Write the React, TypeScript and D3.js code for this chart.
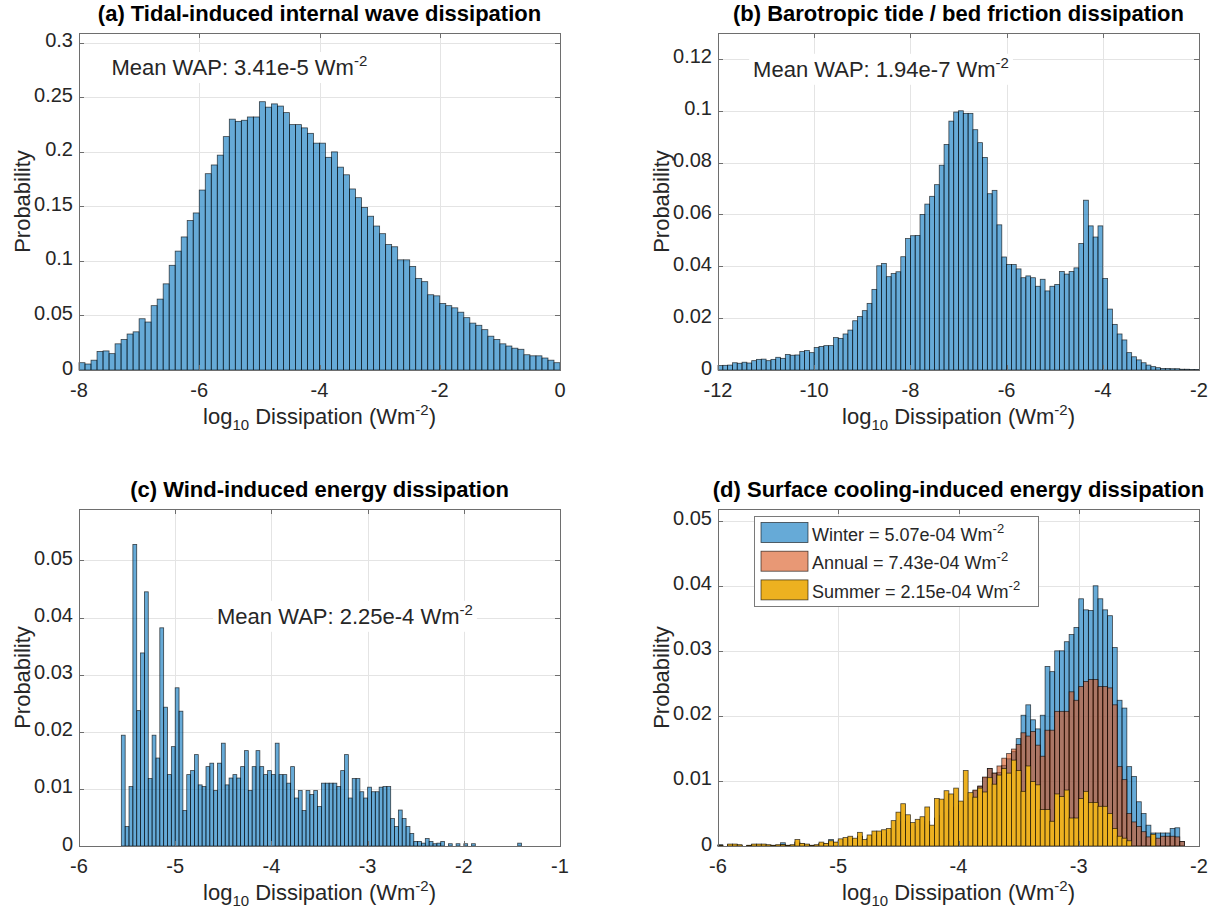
import React from "react";
import * as d3 from "d3";

const FONT = '"Liberation Sans", Arial, Helvetica, sans-serif';
const BLUE = "#0072BD";
const ORANGE = "#D95319";
const YELLOW = "#EDB120";
const AXIS = "#6e6e6e";
const GRID = "#e4e4e4";
const INK = "#262626";

// (a) tidal-induced internal wave dissipation, bins of 0.1 starting at -8
const tidalProb = [
  0.0067, 0.0055, 0.009, 0.017, 0.0175, 0.015, 0.024, 0.028, 0.033, 0.035,
  0.047, 0.044, 0.059, 0.065, 0.079, 0.096, 0.109, 0.122, 0.137, 0.144,
  0.165, 0.18, 0.188, 0.197, 0.214, 0.23, 0.228, 0.229, 0.232, 0.232,
  0.246, 0.241, 0.244, 0.242, 0.236, 0.225, 0.225, 0.222, 0.217, 0.208,
  0.208, 0.195, 0.2, 0.186, 0.179, 0.166, 0.158, 0.149, 0.141, 0.132,
  0.125, 0.115, 0.113, 0.101, 0.101, 0.095, 0.084, 0.081, 0.069, 0.068,
  0.061, 0.059, 0.057, 0.053, 0.048, 0.043, 0.041, 0.037, 0.031, 0.028,
  0.024, 0.022, 0.02, 0.019, 0.014, 0.013, 0.013, 0.011, 0.009, 0.0067,
];
const tidalXTicks = [-8, -6, -4, -2, 0];
const tidalYTicks = [0, 0.05, 0.1, 0.15, 0.2, 0.25, 0.3];

// (b) barotropic tide / bed friction, bins of 0.1 starting at -12
const barotropicProb = [
  0.0017, 0.0018, 0.0019, 0.0028, 0.0026, 0.003, 0.0027, 0.0036, 0.0041, 0.0042,
  0.0036, 0.0041, 0.0049, 0.0045, 0.006, 0.0057, 0.0058, 0.0071, 0.0075, 0.0067,
  0.0087, 0.0091, 0.0094, 0.0094, 0.0125, 0.0122, 0.0139, 0.0154, 0.019, 0.0206,
  0.0229, 0.0257, 0.0311, 0.0402, 0.0411, 0.036, 0.0372, 0.0379, 0.0437, 0.0507,
  0.0518, 0.0519, 0.06, 0.064, 0.067, 0.0715, 0.079, 0.087, 0.096, 0.0995,
  0.1, 0.099, 0.099, 0.0927, 0.0877, 0.082, 0.068, 0.0693, 0.056, 0.0436,
  0.0407, 0.0407, 0.039, 0.0356, 0.0363, 0.0356, 0.0323, 0.035, 0.0305, 0.0323,
  0.033, 0.038, 0.037, 0.038, 0.0394, 0.0488, 0.0655, 0.0556, 0.0513, 0.0556,
  0.0353, 0.0235, 0.0176, 0.0139, 0.0116, 0.0067, 0.0051, 0.0039, 0.0028, 0.0019,
  0.0013, 0.0009, 0.0006, 0.0006, 0.0005, 0.0005, 0.0003, 0.0003, 0.0002, 0.0002,
];
const barotropicXTicks = [-12, -10, -8, -6, -4, -2];
const barotropicYTicks = [0, 0.02, 0.04, 0.06, 0.08, 0.1, 0.12];

// (c) wind-induced, bins of 0.04 starting at -5.56
const windProb = [
  0.0194, 0.0034, 0.0104, 0.0528, 0.0237, 0.0338, 0.0445, 0.0118, 0.0194, 0.0154,
  0.0382, 0.0243, 0.0125, 0.0174, 0.0277, 0.0236, 0.0062, 0.0125, 0.0132, 0.016,
  0.0107, 0.0104, 0.0139, 0.0145, 0.0097, 0.0145, 0.018, 0.0107, 0.0119, 0.0125,
  0.0119, 0.0139, 0.0167, 0.0097, 0.0139, 0.0167, 0.0139, 0.0125, 0.0132, 0.0125,
  0.018, 0.0125, 0.0125, 0.011, 0.0139, 0.0084, 0.0097, 0.0062, 0.0097, 0.009,
  0.0097, 0.0069, 0.011, 0.011, 0.011, 0.011, 0.0104, 0.0132, 0.016, 0.0084,
  0.0118, 0.0118, 0.0095, 0.0084, 0.0103, 0.0095, 0.0095, 0.0103, 0.0104, 0.0104,
  0.0048, 0.0034, 0.0063, 0.0048, 0.0034, 0.0022, 0.0008, 0.0008, 0.0005, 0.0013,
  0.0008, 0.0004, 0.0005, 0.0008, 0, 0.0004, 0, 0.0004, 0, 0.0004,
  0, 0.0004, 0, 0, 0, 0, 0, 0, 0, 0,
  0, 0, 0, 0.0005,
];
const windXTicks = [-6, -5, -4, -3, -2, -1];
const windYTicks = [0, 0.01, 0.02, 0.03, 0.04, 0.05];

// (d) surface cooling, bins of 0.04 starting at -6
const winterProb = [
  0.0002, 0, 0.0002, 0.0002, 0.0001, 0, 0.0001, 0.0002, 0.0002, 0.0002,
  0.0001, 0.0001, 0.0001, 0.0005, 0.0001, 0.0001, 0.0006, 0.0003, 0.0002, 0.0001,
  0.0001, 0.0004, 0.0003, 0.001, 0.0005, 0.0008, 0.0009, 0.0011, 0.0009, 0.0015,
  0.0008, 0.0012, 0.0016, 0.0017, 0.0018, 0.002, 0.0025, 0.0032, 0.0037, 0.0031,
  0.0026, 0.0029, 0.0032, 0.0037, 0.0029, 0.0042, 0.0046, 0.0051, 0.0055, 0.0059,
  0.0062, 0.0067, 0.0073, 0.0085, 0.0092, 0.0105, 0.0119, 0.0112, 0.0113, 0.0124,
  0.0134, 0.0145, 0.0165, 0.0201, 0.0217, 0.0194, 0.018, 0.0201, 0.0276, 0.0268,
  0.03, 0.03, 0.0314, 0.0325, 0.0336, 0.038, 0.0363, 0.0362, 0.04, 0.038,
  0.0363, 0.0354, 0.0305, 0.0224, 0.0212, 0.0122, 0.0107, 0.0068, 0.005, 0.0032,
  0.002, 0.002, 0.002, 0.002, 0.0027, 0.0028, 0.0007,
];
const annualProb = [
  0.0001, 0, 0.0002, 0.0002, 0.0001, 0, 0.0001, 0.0002, 0.0002, 0.0002,
  0.0001, 0.0001, 0.0001, 0.0002, 0.0001, 0.0001, 0.0006, 0.0003, 0.0002, 0.0001,
  0.0001, 0.0004, 0.0003, 0.0006, 0.0005, 0.0008, 0.0009, 0.0011, 0.0009, 0.0015,
  0.0008, 0.0012, 0.0016, 0.0017, 0.0018, 0.002, 0.0026, 0.0033, 0.0038, 0.0032,
  0.0027, 0.003, 0.0033, 0.0038, 0.003, 0.0043, 0.0047, 0.0052, 0.0056, 0.006,
  0.0063, 0.0068, 0.0074, 0.0086, 0.0092, 0.0106, 0.0119, 0.0112, 0.0123, 0.0135,
  0.0142, 0.0149, 0.0156, 0.0174, 0.0169, 0.0176, 0.0155, 0.0138, 0.0178, 0.0178,
  0.0207, 0.0207, 0.0207, 0.0237, 0.0224, 0.0245, 0.0253, 0.0256, 0.0256, 0.0245,
  0.0245, 0.0243, 0.0217, 0.0122, 0.0102, 0.005, 0.0037, 0.003, 0.0022, 0.0014,
  0.0012, 0.0012, 0.0015, 0.0015, 0.0015, 0.0014, 0.0007,
];
const summerProb = [
  0.0001, 0, 0.0003, 0.0003, 0.0002, 0, 0.0001, 0.0003, 0.0003, 0.0003,
  0.0002, 0.0001, 0.0002, 0.0002, 0.0001, 0.0002, 0.001, 0.0004, 0.0003, 0.0001,
  0.0002, 0.0006, 0.0004, 0.0008, 0.0006, 0.0011, 0.0013, 0.0015, 0.0012, 0.0021,
  0.001, 0.0017, 0.0023, 0.0023, 0.0025, 0.0027, 0.0039, 0.0052, 0.0065, 0.0048,
  0.0036, 0.0041, 0.0045, 0.006, 0.0032, 0.0073, 0.0072, 0.0085, 0.008, 0.0089,
  0.0069, 0.0116, 0.0082, 0.0075, 0.0089, 0.0083, 0.0105, 0.0095, 0.0109, 0.0119,
  0.0112, 0.0132, 0.0116, 0.0084, 0.0123, 0.0099, 0.0094, 0.0056, 0.0056, 0.0038,
  0.008, 0.0076, 0.0086, 0.0043, 0.0043, 0.0073, 0.0084, 0.0067, 0.0067, 0.0061,
  0.0061, 0.005, 0.0027, 0.0015, 0.0012, 0.0008, 0, 0, 0, 0,
  0.0018, 0, 0, 0, 0, 0, 0,
];
const coolingXTicks = [-6, -5, -4, -3, -2];
const coolingYTicks = [0, 0.01, 0.02, 0.03, 0.04, 0.05];
const coolingLegend = [
  "Winter = 5.07e-04 Wm",
  "Annual = 7.43e-04 Wm",
  "Summer = 2.15e-04 Wm",
];

const panels = [
  {
    key: "a", left: 79, top: 33, width: 481, height: 337,
    xDomain: [-8, 0], yMax: 0.309, xTicks: tidalXTicks, yTicks: tidalYTicks,
    title: "(a) Tidal-induced internal wave dissipation",
    series: [{ start: -8, bw: 0.1, values: tidalProb, color: BLUE, alpha: 0.6 }],
    note: { x: -7.46, y: 0.2705, text: "Mean WAP: 3.41e-5 Wm" },
  },
  {
    key: "b", left: 718, top: 33, width: 481, height: 337,
    xDomain: [-12, -2], yMax: 0.13, xTicks: barotropicXTicks, yTicks: barotropicYTicks,
    title: "(b) Barotropic tide / bed friction dissipation",
    series: [{ start: -12, bw: 0.1, values: barotropicProb, color: BLUE, alpha: 0.6 }],
    note: { x: -11.27, y: 0.1131, text: "Mean WAP: 1.94e-7 Wm" },
  },
  {
    key: "c", left: 79, top: 509, width: 481, height: 337,
    xDomain: [-6, -1], yMax: 0.059, xTicks: windXTicks, yTicks: windYTicks,
    title: "(c) Wind-induced energy dissipation",
    series: [{ start: -5.56, bw: 0.04, values: windProb, color: BLUE, alpha: 0.6 }],
    note: { x: -4.565, y: 0.0389, text: "Mean WAP: 2.25e-4 Wm" },
  },
  {
    key: "d", left: 718, top: 509, width: 481, height: 337,
    xDomain: [-6, -2], yMax: 0.0518, xTicks: coolingXTicks, yTicks: coolingYTicks,
    title: "(d) Surface cooling-induced energy dissipation",
    series: [
      { start: -6, bw: 0.04, values: winterProb, color: BLUE, alpha: 0.6 },
      { start: -6, bw: 0.04, values: annualProb, color: ORANGE, alpha: 0.6 },
      { start: -6, bw: 0.04, values: summerProb, color: YELLOW, alpha: 1 },
    ],
    legend: coolingLegend,
  },
];

let measureCtx: CanvasRenderingContext2D | null = null;
function textWidth(s: string, size: number, weight = "normal") {
  if (!measureCtx) measureCtx = document.createElement("canvas").getContext("2d");
  if (!measureCtx) return s.length * size * 0.55;
  measureCtx.font = `${weight} ${size}px ${FONT}`;
  return measureCtx.measureText(s).width;
}

const fmt = (t: number) => String(+t.toFixed(4));
const px = (v: number) => Math.round(v) + 0.5;

function Panel({ cfg }: { cfg: any }) {
  const { left, top, width, height } = cfg;
  const bottom = top + height;
  const right = left + width;
  const x = d3.scaleLinear().domain(cfg.xDomain).range([left, right]);
  const y = d3.scaleLinear().domain([0, cfg.yMax]).range([bottom, top]);
  const tickLen = 5;

  const innerX = cfg.xTicks.filter((t: number) => t > cfg.xDomain[0] && t < cfg.xDomain[1]);
  const innerY = cfg.yTicks.filter((t: number) => t > 0 && t < cfg.yMax);

  let note = null;
  if (cfg.note) {
    const nx = x(cfg.note.x);
    const ny = y(cfg.note.y);
    const w = textWidth(cfg.note.text, 22) + textWidth("-2", 15);
    note = (
      <g>
        <rect x={nx - 4} y={ny - 23} width={w + 8} height={31} fill="#fff" />
        <text x={nx} y={ny} fontSize={22} fill={INK} fontFamily={FONT}>
          {cfg.note.text}
          <tspan dy={-9} fontSize={15}>-2</tspan>
        </text>
      </g>
    );
  }

  let legend = null;
  if (cfg.legend) {
    const lx = left + 36;
    const ly = top + 7;
    const rowTop = (i: number) => ly + 6.5 + i * 28.7;
    legend = (
      <g>
        <rect x={px(lx)} y={px(ly)} width={284} height={90} fill="#fff" stroke="#7a7a7a" strokeWidth={1} />
        {cfg.legend.map((label: string, i: number) => (
          <g key={label}>
            <rect
              x={lx + 7} y={rowTop(i)} width={47} height={20}
              fill={cfg.series[i].color} fillOpacity={cfg.series[i].alpha}
              stroke="#000" strokeOpacity={0.7} strokeWidth={0.8}
            />
            <text x={lx + 58} y={rowTop(i) + 18} fontSize={18} fill={INK} fontFamily={FONT}>
              {label}
              <tspan dy={-8} fontSize={13}>-2</tspan>
            </text>
          </g>
        ))}
      </g>
    );
  }

  return (
    <g>
      {innerX.map((t: number) => (
        <line key={`gx${t}`} x1={px(x(t))} x2={px(x(t))} y1={top} y2={bottom} stroke={GRID} />
      ))}
      {innerY.map((t: number) => (
        <line key={`gy${t}`} x1={left} x2={right} y1={px(y(t))} y2={px(y(t))} stroke={GRID} />
      ))}

      {cfg.series.map((s: any, si: number) => (
        <g key={`s${si}`}>
          {s.values.map((v: number, i: number) => {
            if (v <= 0) return null;
            const x0 = x(s.start + i * s.bw);
            const x1 = x(s.start + (i + 1) * s.bw);
            return (
              <rect
                key={i} x={x0} y={y(v)} width={x1 - x0} height={y(0) - y(v)}
                fill={s.color} fillOpacity={s.alpha}
                stroke="#000" strokeOpacity={0.7} strokeWidth={0.8}
              />
            );
          })}
        </g>
      ))}

      {note}

      <rect x={px(left)} y={px(top)} width={width} height={height} fill="none" stroke={AXIS} strokeWidth={1} />
      {innerX.map((t: number) => (
        <g key={`tx${t}`}>
          <line x1={px(x(t))} x2={px(x(t))} y1={bottom} y2={bottom - tickLen} stroke={AXIS} />
          <line x1={px(x(t))} x2={px(x(t))} y1={top} y2={top + tickLen} stroke={AXIS} />
        </g>
      ))}
      {innerY.map((t: number) => (
        <g key={`ty${t}`}>
          <line x1={left} x2={left + tickLen} y1={px(y(t))} y2={px(y(t))} stroke={AXIS} />
          <line x1={right} x2={right - tickLen} y1={px(y(t))} y2={px(y(t))} stroke={AXIS} />
        </g>
      ))}

      {cfg.xTicks.map((t: number) => (
        <text key={`lx${t}`} x={x(t)} y={bottom + 27} fontSize={20} fill={INK}
          fontFamily={FONT} textAnchor="middle">{fmt(t)}</text>
      ))}
      {cfg.yTicks.map((t: number) => (
        <text key={`ly${t}`} x={left - 6} y={y(t) + 4.5} fontSize={20} fill={INK}
          fontFamily={FONT} textAnchor="end">{fmt(t)}</text>
      ))}

      <text x={(left + right) / 2} y={top - 12} fontSize={22} fontWeight="bold"
        fill="#000" fontFamily={FONT} textAnchor="middle">{cfg.title}</text>

      <text x={(left + right) / 2} y={bottom + 54} fontSize={22} fill={INK}
        fontFamily={FONT} textAnchor="middle">
        log<tspan dy={6} fontSize={15}>10</tspan>
        <tspan dy={-6}> Dissipation (Wm</tspan>
        <tspan dy={-9} fontSize={15}>-2</tspan>
        <tspan dy={9}>)</tspan>
      </text>

      <text x={left - 57} y={(top + bottom) / 2} dy="0.35em" fontSize={22} fill={INK}
        fontFamily={FONT} textAnchor="middle"
        transform={`rotate(-90, ${left - 57}, ${(top + bottom) / 2})`}>Probability</text>

      {legend}
    </g>
  );
}

export default function App() {
  return (
    <svg
      width={1221} height={917} viewBox="0 0 1221 917"
      style={{ position: "absolute", left: 0, top: 0, background: "#fff" }}
    >
      <rect x={0} y={0} width={1221} height={917} fill="#fff" />
      {panels.map((p) => (
        <Panel key={p.key} cfg={p} />
      ))}
    </svg>
  );
}
